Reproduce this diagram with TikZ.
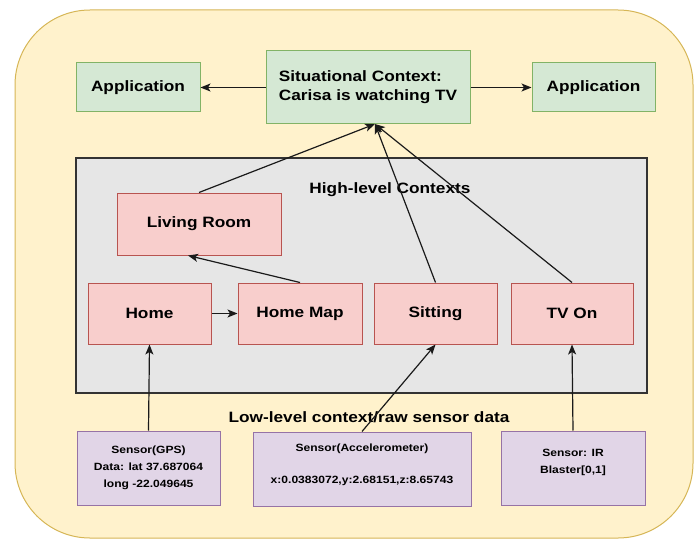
\documentclass[tikz,border=0pt]{standalone}
\usepackage{fontspec}
\setmainfont{Liberation Sans}[FakeStretch=1.15]
\usetikzlibrary{arrows.meta}

\definecolor{panelfill}{HTML}{FFF2CC}
\definecolor{panelline}{HTML}{D6B656}
\definecolor{greenfill}{HTML}{D5E8D4}
\definecolor{greenline}{HTML}{82B366}
\definecolor{redfill}{HTML}{F8CECC}
\definecolor{redline}{HTML}{B85450}
\definecolor{violetfill}{HTML}{E1D5E7}
\definecolor{violetline}{HTML}{9673A6}
\definecolor{greyfill}{HTML}{E6E6E6}
\definecolor{greyline}{HTML}{333333}
\definecolor{linkcolor}{HTML}{1A1A1A}

\begin{document}
\begin{tikzpicture}
            [
            x=1pt,y=-1pt,
            >={Stealth[length=10pt,width=8pt,inset=2.5pt]},
            font={\fontsize{15}{19}\selectfont\bfseries},
            box/.style={draw,line width=1pt,inner sep=2pt,align=center},
            app/.style={box,fill=greenfill,draw=greenline,
                minimum height=49pt},
            ctx/.style={box,fill=redfill,draw=redline,
                minimum width=123pt,minimum height=61pt},
            sensor/.style={box,fill=violetfill,draw=violetline,
                minimum height=74pt,
                font={\fontsize{10.5}{17}\selectfont\bfseries}},
            link/.style={draw=linkcolor,line width=1.2pt,->},
            ]
            \useasboundingbox (0,0) rectangle (700,540);

            % Panel
            \draw[fill=panelfill,draw=panelline,line width=1pt,
                rounded corners=75pt] (15,10) rectangle (693,538);

            % High-level area
            \node[draw=greyline,fill=greyfill,line width=1.2pt,
                minimum width=571pt,minimum height=235pt] (area) at (361.5,275.5) {};
            \node[anchor=base] (hightitle) at (390,193) {High-level Contexts};
            \node[anchor=base] (lowtitle) at (369,422) {Low-level context/raw sensor data};

            % Situation and applications
            \node[app,minimum width=204pt,minimum height=73pt,align=left]
                (situation) at (368,87.5) {Situational Context:\\Carisa is watching TV};
            \node[app,minimum width=124pt] (appleft) at (138,87.5) {Application};
            \node[app,minimum width=123pt] (appright) at (593.5,87.5) {Application};

            % Contexts
            \node[ctx,minimum width=164pt,minimum height=62pt] (living) at (199,224) {Living Room};
            \node[ctx] (home) at (149.5,313.5) {Home};
            \node[ctx,minimum width=124pt] (homemap) at (300,313.5) {Home Map};
            \node[ctx] (sitting) at (435.5,313.5) {Sitting};
            \node[ctx,minimum width=122pt] (tvon) at (572,313.5) {TV On};

            % Sensors
            \node[sensor,minimum width=143pt] (gps) at (148.5,468)
                {Sensor(GPS)\\Data: lat 37.687064\\long -22.049645};
            \node[sensor,minimum width=218pt,text depth=11pt] (accel) at (362,469)
                {Sensor(Accelerometer)\\[15pt]x:0.0383072,y:2.68151,z:8.65743};
            \node[sensor,minimum width=144pt,text depth=13pt] (ir) at (573,468)
                {Sensor: IR\\Blaster[0,1]};

            % Links
            \coordinate (hit) at (375,124);
            \draw[link] (situation) -- (appleft);
            \draw[link] (situation) -- (appright);
            \draw[link] (living.north) -- (hit);
            \draw[link] (sitting.north) -- (hit);
            \draw[link] (tvon.north) -- (hit);
            \draw[link] (homemap.north) -- ([xshift=-11pt]living.south);
            \draw[link] (home) -- (homemap);
            \draw[link] (gps.north) -- (home.south);
            \draw[link] (accel.north) -- (sitting.south);
            \draw[link] (ir.north) -- (tvon.south);

        \end{tikzpicture}
\end{document}
